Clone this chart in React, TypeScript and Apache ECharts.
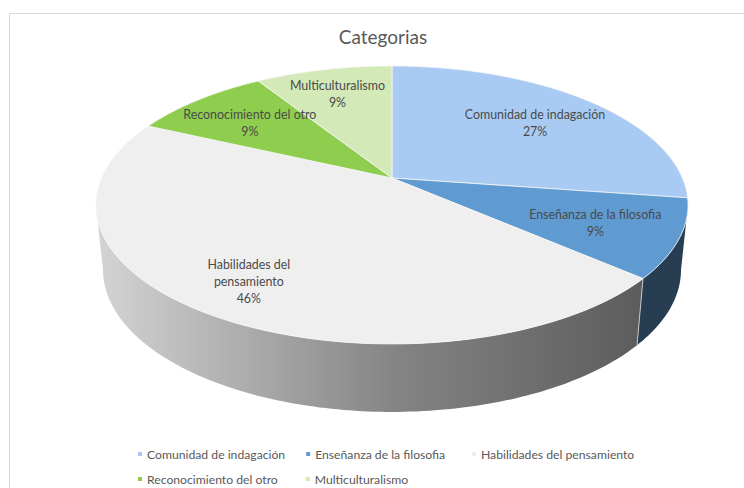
import React, { useEffect, useRef } from "react";
import * as echarts from "echarts";

const categories = [
  "Comunidad de indagación",
  "Enseñanza de la filosofia",
  "Habilidades del pensamiento",
  "Reconocimiento del otro",
  "Multiculturalismo",
];
const percentValues = [27.3, 9.1, 45.5, 9.1, 9.0];
const sliceColors = ["#A9CAF3", "#5F9BD1", "#EFEFEF", "#8FCD4E", "#D3E9B8"];
const labelLines = [
  ["Comunidad de indagación"],
  ["Enseñanza de la filosofia"],
  ["Habilidades del", "pensamiento"],
  ["Reconocimiento del otro"],
  ["Multiculturalismo"],
];
const labelRadius = [0.71, 0.725, 0.79, 0.71, 0.77];

const FONT = "Lato";
const TEXT = "#595959";
const CX = 392;
const PERSPECTIVE = -0.194;
const TOP = { rx: 290.4, ry: 99.2, cy: 178 };
const BOTTOM = { rx: 283.5, ry: 89.6, cy: 242.4 };
const RAD = Math.PI / 180;
const SILHOUETTE = Math.acos(PERSPECTIVE) / RAD; // angle at which the wall's edge is tangent
const RIGHT_EDGE = SILHOUETTE;
const LEFT_EDGE = 360 - SILHOUETTE;
const LABEL_DY = 2;

function project(deg: number, r: number, plane: typeof TOP): number[] {
  const u = r * Math.sin(deg * RAD);
  const v = -r * Math.cos(deg * RAD);
  const w = 1 + PERSPECTIVE * v;
  return [CX + (plane.rx * u) / w, (plane.cy + plane.ry * v) / w];
}

function arc(a: number, b: number, plane: typeof TOP): number[][] {
  const steps = Math.max(2, Math.ceil(Math.abs(b - a)));
  const pts: number[][] = [];
  for (let i = 0; i <= steps; i++) pts.push(project(a + ((b - a) * i) / steps, 1, plane));
  return pts;
}

function sideFill(index: number) {
  if (index === 1) return "#263D52";
  return new echarts.graphic.LinearGradient(0, 0, 1, 0, [
    { offset: 0, color: "#D4D4D4" },
    { offset: 0.55, color: "#848484" },
    { offset: 1, color: "#5C5C5C" },
  ]);
}

function renderSlice(params: any, api: any) {
  const index = params.seriesIndex;
  const value = api.value(0);
  const before = api.value(1);
  const start = (before / 100) * 360;
  const end = ((before + value) / 100) * 360;
  const children: any[] = [];

  const wallStart = Math.max(start, RIGHT_EDGE);
  const wallEnd = Math.min(end, LEFT_EDGE);
  if (wallEnd > wallStart) {
    children.push({
      type: "polygon",
      shape: { points: [...arc(wallStart, wallEnd, TOP), ...arc(wallEnd, wallStart, BOTTOM)] },
      style: { fill: sideFill(index) },
    });
    if (start >= RIGHT_EDGE && start <= LEFT_EDGE) {
      const a = project(start, 1, TOP);
      const b = project(start, 1, BOTTOM);
      children.push({
        type: "line",
        shape: { x1: a[0], y1: a[1], x2: b[0], y2: b[1] },
        style: { stroke: "#C4C4C4", lineWidth: 1 },
      });
    }
  }

  children.push({
    type: "polygon",
    shape: { points: [[CX, TOP.cy], ...arc(start, end, TOP)] },
    style: { fill: sliceColors[index], stroke: "#F6F6F6", lineWidth: 0.8, lineJoin: "round" },
  });

  const pos = project((start + end) / 2, labelRadius[index], TOP);
  children.push({
    type: "text",
    x: pos[0],
    y: pos[1] + LABEL_DY,
    z2: 10,
    style: {
      text: [...labelLines[index], `${Math.round(value)}%`].join("\n"),
      fill: "#4A4A4A",
      font: `12.4px ${FONT}`,
      lineHeight: 17,
      align: "center",
      verticalAlign: "middle",
    },
  });
  return { type: "group", children };
}

let running = 0;
const sliceRows = percentValues.map((v) => {
  const row = [v, running];
  running += v;
  return row;
});

export default function App() {
  const ref = useRef<HTMLDivElement>(null);
  useEffect(() => {
    document.body.style.margin = "0";
    const chart = echarts.init(ref.current!, undefined, { renderer: "svg" });
    const legendBase = {
      orient: "horizontal" as const,
      icon: "rect",
      itemWidth: 4,
      itemHeight: 4,
      selectedMode: false,
      textStyle: { color: TEXT, fontFamily: FONT, fontSize: 12.2 },
      padding: 0,
    };
    chart.setOption({
      animation: false,
      backgroundColor: "#FFFFFF",
      title: {
        text: "Categorias",
        left: 378,
        top: 22,
        textAlign: "center",
        textStyle: { color: TEXT, fontFamily: FONT, fontSize: 19, fontWeight: "normal" },
      },
      legend: [
        { ...legendBase, data: categories.slice(0, 2), left: 138, top: 448, itemGap: 21 },
        { ...legendBase, data: categories.slice(2, 3), left: 472, top: 448 },
        { ...legendBase, data: categories.slice(3), left: 138, top: 473, itemGap: 28 },
      ],
      graphic: [
        {
          type: "polyline",
          silent: true,
          shape: { points: [[9.5, 488], [9.5, 13.5], [744, 13.5]] },
          style: { fill: "none", stroke: "#D9D9D9", lineWidth: 1 },
        },
      ],
      series: categories.map((name, i) => ({
        type: "custom",
        name,
        coordinateSystem: "none",
        itemStyle: { color: sliceColors[i] },
        data: [sliceRows[i]],
        renderItem: renderSlice,
        silent: true,
      })),
    });
    return () => chart.dispose();
  }, []);
  return <div ref={ref} style={{ width: 744, height: 488 }} />;
}
